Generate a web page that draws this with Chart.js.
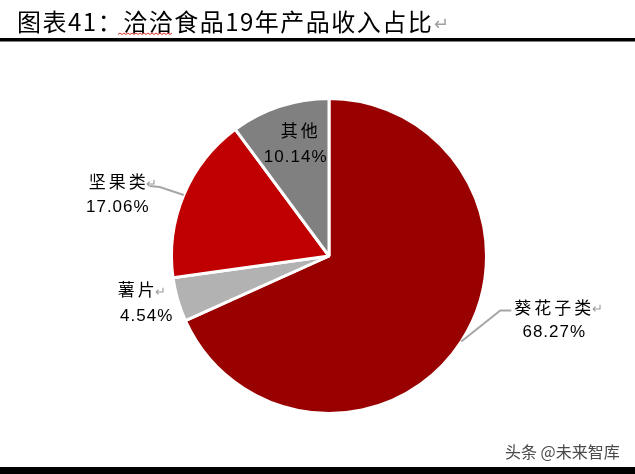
<!DOCTYPE html>
<html>
<head>
<meta charset="utf-8">
<script src="https://cdn.jsdelivr.net/npm/chart.js@4"></script>
<style>
  body { margin: 0; background: #fff; }
  canvas { display: block; }
</style>
</head>
<body>
<canvas id="pieChart" width="635" height="474"></canvas>
<script>
const titleText = '图表41：洽洽食品19年产品收入占比';
const categories = ['葵花子类', '薯片', '坚果类', '其他'];
const shares = [68.27, 4.54, 17.06, 10.14];
const sliceColors = ['#990000', '#B2B2B2', '#C00000', '#808080'];

// where each label sits, relative to the point on the rim at the slice's middle angle
const labelLayout = [
    { leader: [[39, -31], [50, -31]], name: [93, -34], value: [93, -9] },
    { leader: null, name: [-40, -10], value: [-31, 17] },
    { leader: [[-24, -8], [-34, -9]], name: [-65, -13], value: [-66, 12] },
    { leader: null, name: [21, 24], value: [16, 51], inside: true }
];

const pagePlugin = {
    id: 'pageDecor',
    beforeDraw(chart) {
        const ctx = chart.ctx;
        ctx.save();
        ctx.fillStyle = '#fff';
        ctx.fillRect(0, 0, chart.width, chart.height);

        // title
        ctx.fillStyle = '#000';
        ctx.font = '24px "Noto Sans CJK SC"';
        ctx.textBaseline = 'middle';
        ctx.letterSpacing = '1.5px';
        ctx.fillText(titleText, 17, 22);
        const w = ctx.measureText(titleText).width;
        ctx.fillStyle = '#a0a0a0';
        ctx.font = '18px "Noto Sans CJK SC"';
        ctx.letterSpacing = '0px';
        ctx.fillText('↵', 17 + w + 1, 23);

        // squiggle under 洽洽食品
        ctx.strokeStyle = '#e03030';
        ctx.lineWidth = 1;
        ctx.beginPath();
        for (let x = 118; x <= 172; x += 2) {
            const y = 33 + ((x / 2) % 2 === 0 ? 0 : 1.5);
            if (x === 118) ctx.moveTo(x, y); else ctx.lineTo(x, y);
        }
        ctx.stroke();

        // rules
        ctx.fillStyle = '#000';
        ctx.fillRect(0, 38, chart.width, 3.5);
        ctx.fillRect(0, 467, chart.width, 7);

        // watermark
        ctx.fillStyle = '#4a4a4a';
        ctx.font = '16px "Noto Sans CJK SC"';
        ctx.fillText('头条 @未来智库', 505, 452);
        ctx.restore();
    }
};

const labelPlugin = {
    id: 'sliceLabels',
    afterDatasetsDraw(chart) {
        const ctx = chart.ctx;
        const meta = chart.getDatasetMeta(0);
        ctx.save();
        ctx.textAlign = 'center';
        ctx.textBaseline = 'middle';
        meta.data.forEach((arc, i) => {
            const p = arc.getProps(['x', 'y', 'startAngle', 'endAngle', 'outerRadius'], true);
            const mid = (p.startAngle + p.endAngle) / 2;
            const ex = p.x + Math.cos(mid) * p.outerRadius;
            const ey = p.y + Math.sin(mid) * p.outerRadius;
            const lay = labelLayout[i];

            if (lay.leader) {
                ctx.strokeStyle = '#a6a6a6';
                ctx.lineWidth = 2;
                ctx.beginPath();
                ctx.moveTo(ex, ey);
                lay.leader.forEach(pt => ctx.lineTo(ex + pt[0], ey + pt[1]));
                ctx.stroke();
            }

            const name = categories[i];
            const value = shares[i].toFixed(2) + '%';
            ctx.fillStyle = '#000';
            ctx.font = '17px "Noto Sans CJK SC"';
            ctx.letterSpacing = '3px';
            const nx = ex + lay.name[0], ny = ey + lay.name[1];
            ctx.fillText(name, nx, ny);
            const nw = ctx.measureText(name).width;
            ctx.letterSpacing = '1px';
            ctx.font = '17px "Liberation Sans"';
            const vx = ex + lay.value[0], vy = ey + lay.value[1];
            ctx.fillText(value, vx, vy);

            if (!lay.inside) {
                ctx.fillStyle = '#9a9a9a';
                ctx.font = '13px "Noto Sans CJK SC"';
                ctx.letterSpacing = '0px';
                ctx.fillText('↵', nx + nw / 2 + 3, ny + 1);
            }
        });
        ctx.restore();
    }
};

new Chart(document.getElementById('pieChart'), {
    type: 'pie',
    data: {
        labels: categories,
        datasets: [{
            data: shares,
            backgroundColor: sliceColors,
            borderColor: '#fff',
            borderWidth: 3
        }]
    },
    options: {
        responsive: false,
        animation: false,
        layout: { padding: { left: 170, right: 147, top: 97, bottom: 59 } },
        plugins: {
            legend: { display: false },
            tooltip: { enabled: false },
            title: { display: false }
        }
    },
    plugins: [pagePlugin, labelPlugin]
});
</script>
</body>
</html>
